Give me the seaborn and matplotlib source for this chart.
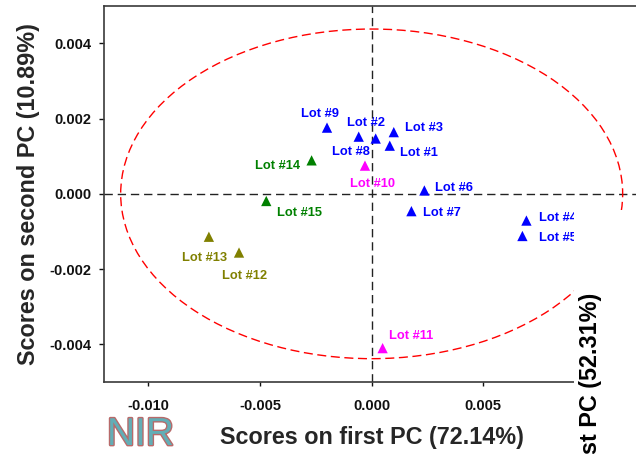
import matplotlib
matplotlib.use("Agg")
import matplotlib.pyplot as plt
import matplotlib.patheffects as pe
from matplotlib.patches import Ellipse, Rectangle
from matplotlib.ticker import FormatStrFormatter
import seaborn as sns
import pandas as pd

# ---------------- data ----------------
lots = ["Lot #1", "Lot #2", "Lot #3", "Lot #4", "Lot #5", "Lot #6", "Lot #7", "Lot #8",
        "Lot #9", "Lot #10", "Lot #11", "Lot #12", "Lot #13", "Lot #14", "Lot #15"]
pc1 = [0.00081, 0.00018, 0.00099, 0.00693, 0.00675, 0.00236, 0.00178, -0.00058,
       -0.00200, -0.00030, 0.00049, -0.00594, -0.00729, -0.00269, -0.00472]
pc2 = [0.00128, 0.00147, 0.00164, -0.00071, -0.00112, 0.00009, -0.00046, 0.00152,
       0.00176, 0.00075, -0.00410, -0.00156, -0.00114, 0.00089, -0.00019]
groups = ["blue", "blue", "blue", "blue", "blue", "blue", "blue", "blue",
          "blue", "magenta", "magenta", "olive", "olive", "green", "green"]
ellipse_a = 0.01124   # semi-axis along PC1
ellipse_b = 0.00438   # semi-axis along PC2
x_ticks = [-0.010, -0.005, 0.000, 0.005]
y_ticks = [-0.004, -0.002, 0.000, 0.002, 0.004]
x_label = "Scores on first PC (72.14%)"
y_label = "Scores on second PC (10.89%)"
other_label = "st PC (52.31%)"
logo_text = "NIR"

# ---------------- styles ----------------
palette = {"blue": "#0000FF", "magenta": "#FF00FF", "olive": "#808000", "green": "#008000"}
# label offsets (pixels, visual centre relative to marker), and horizontal alignment
label_offsets = [(10, -5.7), (-28.7, 17), (11.7, 5.6), (12.6, 4), (16.3, 0), (10.3, 4),
                 (11.6, -0.7), (-26.7, -14), (-25.6, 15), (-14.6, -16.7), (6.4, 14),
                 (-17.1, -21.6), (-27.2, -20), (-11, -3.6), (10.6, -10)]
label_ha = ["left"] * 13 + ["right", "left"]

sns.set_style("white")
plt.rcParams["font.family"] = ["Liberation Sans", "DejaVu Sans"]
plt.rcParams["axes.unicode_minus"] = False

W, H = 636, 454
fig = plt.figure(figsize=(W / 100, H / 100), dpi=100)
ax_left, ax_right, ax_top, ax_bottom = 103.7, 650.8, 5.7, 382.0
ax = fig.add_axes([ax_left / W, (H - ax_bottom) / H, (ax_right - ax_left) / W, (ax_bottom - ax_top) / H])

df = pd.DataFrame({"pc1": pc1, "pc2": pc2, "group": groups, "lot": lots})

# reference lines
ax.axhline(0, color="#222222", lw=1.0, dashes=(6, 3.5), zorder=1)
ax.axvline(0, color="#222222", lw=1.0, dashes=(6, 3.5), zorder=1)

# confidence ellipse
ell = Ellipse((0, 0), 2 * ellipse_a, 2 * ellipse_b, fill=False, edgecolor="#FF0000",
              lw=1.0, linestyle=(0, (6.5, 3.3)), zorder=2)
ax.add_patch(ell)

sns.scatterplot(data=df, x="pc1", y="pc2", hue="group", palette=palette, marker="^",
                s=55, linewidth=0, legend=False, ax=ax, zorder=3)

label_fs = 9.3
cap_px = 0.716 * label_fs * 100 / 72
for name, x, y, g, (dx, dy), ha in zip(lots, pc1, pc2, groups, label_offsets, label_ha):
    ax.annotate(name, (x, y), xytext=(dx, dy - cap_px / 2), textcoords="offset pixels",
                ha=ha, va="baseline", color=palette[g], fontsize=label_fs,
                fontweight="bold", zorder=4)

ax.set_xlim(-0.012, 0.0125)
ax.set_ylim(-0.005, 0.005)
ax.set_xticks(x_ticks)
ax.set_yticks(y_ticks)
ax.xaxis.set_major_formatter(FormatStrFormatter("%.3f"))
ax.yaxis.set_major_formatter(FormatStrFormatter("%.3f"))
ax.tick_params(axis="x", direction="out", length=3, width=1, pad=9, labelsize=10.5,
               colors="#111111", bottom=True)
ax.tick_params(axis="y", direction="out", length=3.6, width=1, pad=5.5, labelsize=10.5,
               colors="#111111", left=True)
for lab in ax.get_xticklabels() + ax.get_yticklabels():
    lab.set_fontweight("bold")
for side in ["left", "bottom", "top"]:
    ax.spines[side].set_color("#3a3a3a")
    ax.spines[side].set_linewidth(1.2)
ax.spines["right"].set_visible(False)
ax.set_xlabel(x_label, fontsize=16.8, fontweight="bold", va="center", ha="center")
ax.set_ylabel(y_label, fontsize=16.8, fontweight="bold", va="center", ha="center")
ax.xaxis.set_label_coords((371.5 - ax_left) / (ax_right - ax_left), (ax_bottom - 437.5) / (ax_bottom - ax_top))
ax.yaxis.set_label_coords((28.7 - ax_left) / (ax_right - ax_left), (ax_bottom - 194) / (ax_bottom - ax_top))

# neighbouring panel covering the lower right corner
fig.add_artist(Rectangle((573.5 / W, 0), 1 - 573.5 / W, (H - 210) / H,
                         transform=fig.transFigure, facecolor="white", edgecolor="none", zorder=10))
fig.text(591 / W, (H - 293) / H, other_label, rotation=90, ha="center", va="top",
         fontsize=16.8, fontweight="bold", color="black", zorder=11)

# logo
fig.text(107 / W, 1.0 / H, logo_text, ha="left", va="bottom", fontsize=28, color="#62aeb6",
         zorder=11, path_effects=[pe.Stroke(linewidth=2.0, foreground="#b86a6a"), pe.Normal()])

fig.savefig("out.png", dpi=100)
